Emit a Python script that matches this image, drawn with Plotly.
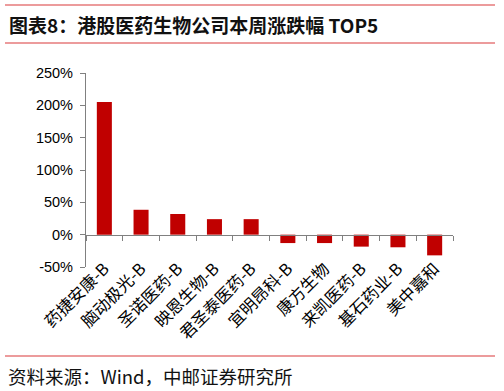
import plotly.graph_objects as go

categories = ["药捷安康-B", "脑动极光-B", "圣诺医药-B", "映恩生物-B", "君圣泰医药-B",
              "宜明昂科-B", "康方生物", "来凯医药-B", "基石药业-B", "美中嘉和"]
values = [205, 38.5, 32, 24, 24, -13, -13, -18.5, -19.5, -32]
y_tick_vals = [-50, 0, 50, 100, 150, 200, 250]
y_tick_text = [f"{v}%" for v in y_tick_vals]

title_text = "图表8：港股医药生物公司本周涨跌幅 TOP5"
source_text = "资料来源：Wind，中邮证券研究所"

W, H = 504, 391
L, R, T, B = 86, 51, 73, 124
y_range = [-50, 250]

fig = go.Figure()
fig.add_trace(go.Bar(x=categories, y=values, marker=dict(color="#C00000", line=dict(width=0)),
                     showlegend=False))

zero_pos = (0 - y_range[0]) / (y_range[1] - y_range[0])

fig.update_layout(
    width=W, height=H,
    margin=dict(l=L, r=R, t=T, b=B, pad=0),
    paper_bgcolor="white", plot_bgcolor="white",
    bargap=0.59,
    font=dict(family="Noto Sans CJK SC, sans-serif", color="black"),
    xaxis=dict(
        type="category", anchor="free", position=zero_pos,
        showline=True, linecolor="#808080", linewidth=1.2,
        ticks="outside", ticklen=5, tickcolor="#808080", tickwidth=1,
        tickson="boundaries", tickangle=-45, ticklabelstandoff=17,
        tickfont=dict(family="Noto Sans CJK SC", size=16.5, color="black"),
        showgrid=False, zeroline=False, automargin=False,
    ),
    yaxis=dict(
        range=y_range, tickvals=y_tick_vals, ticktext=y_tick_text,
        showline=True, linecolor="#808080", linewidth=1.2,
        ticks="outside", ticklen=5, tickcolor="#808080", ticklabelstandoff=4,
        tickfont=dict(family="Liberation Sans, Arial", size=14.5, color="black"),
        showgrid=False, zeroline=False, automargin=False, domain=[0, 1],
    ),
)

line_color = "#D9383A"
for yy in [5, 43, 356]:
    fig.add_shape(type="line", xref="paper", yref="paper",
                  x0=(5 - L) / (W - L - R), x1=(495 - L) / (W - L - R),
                  y0=(H - B - yy) / (H - T - B), y1=(H - B - yy) / (H - T - B),
                  line=dict(color=line_color, width=1.2))

fig.add_annotation(text="<b>" + title_text + "</b>", xref="paper", yref="paper",
                   x=(7 - L) / (W - L - R), y=(H - B - 24) / (H - T - B),
                   xanchor="left", yanchor="middle", showarrow=False,
                   font=dict(family="Noto Sans CJK SC", size=19, color="#111111"))
fig.add_annotation(text=source_text, xref="paper", yref="paper",
                   x=(6 - L) / (W - L - R), y=(H - B - 376) / (H - T - B),
                   xanchor="left", yanchor="middle", showarrow=False,
                   font=dict(family="Noto Sans CJK SC", size=18.5, color="#111111"))

fig.write_html("out.html")
